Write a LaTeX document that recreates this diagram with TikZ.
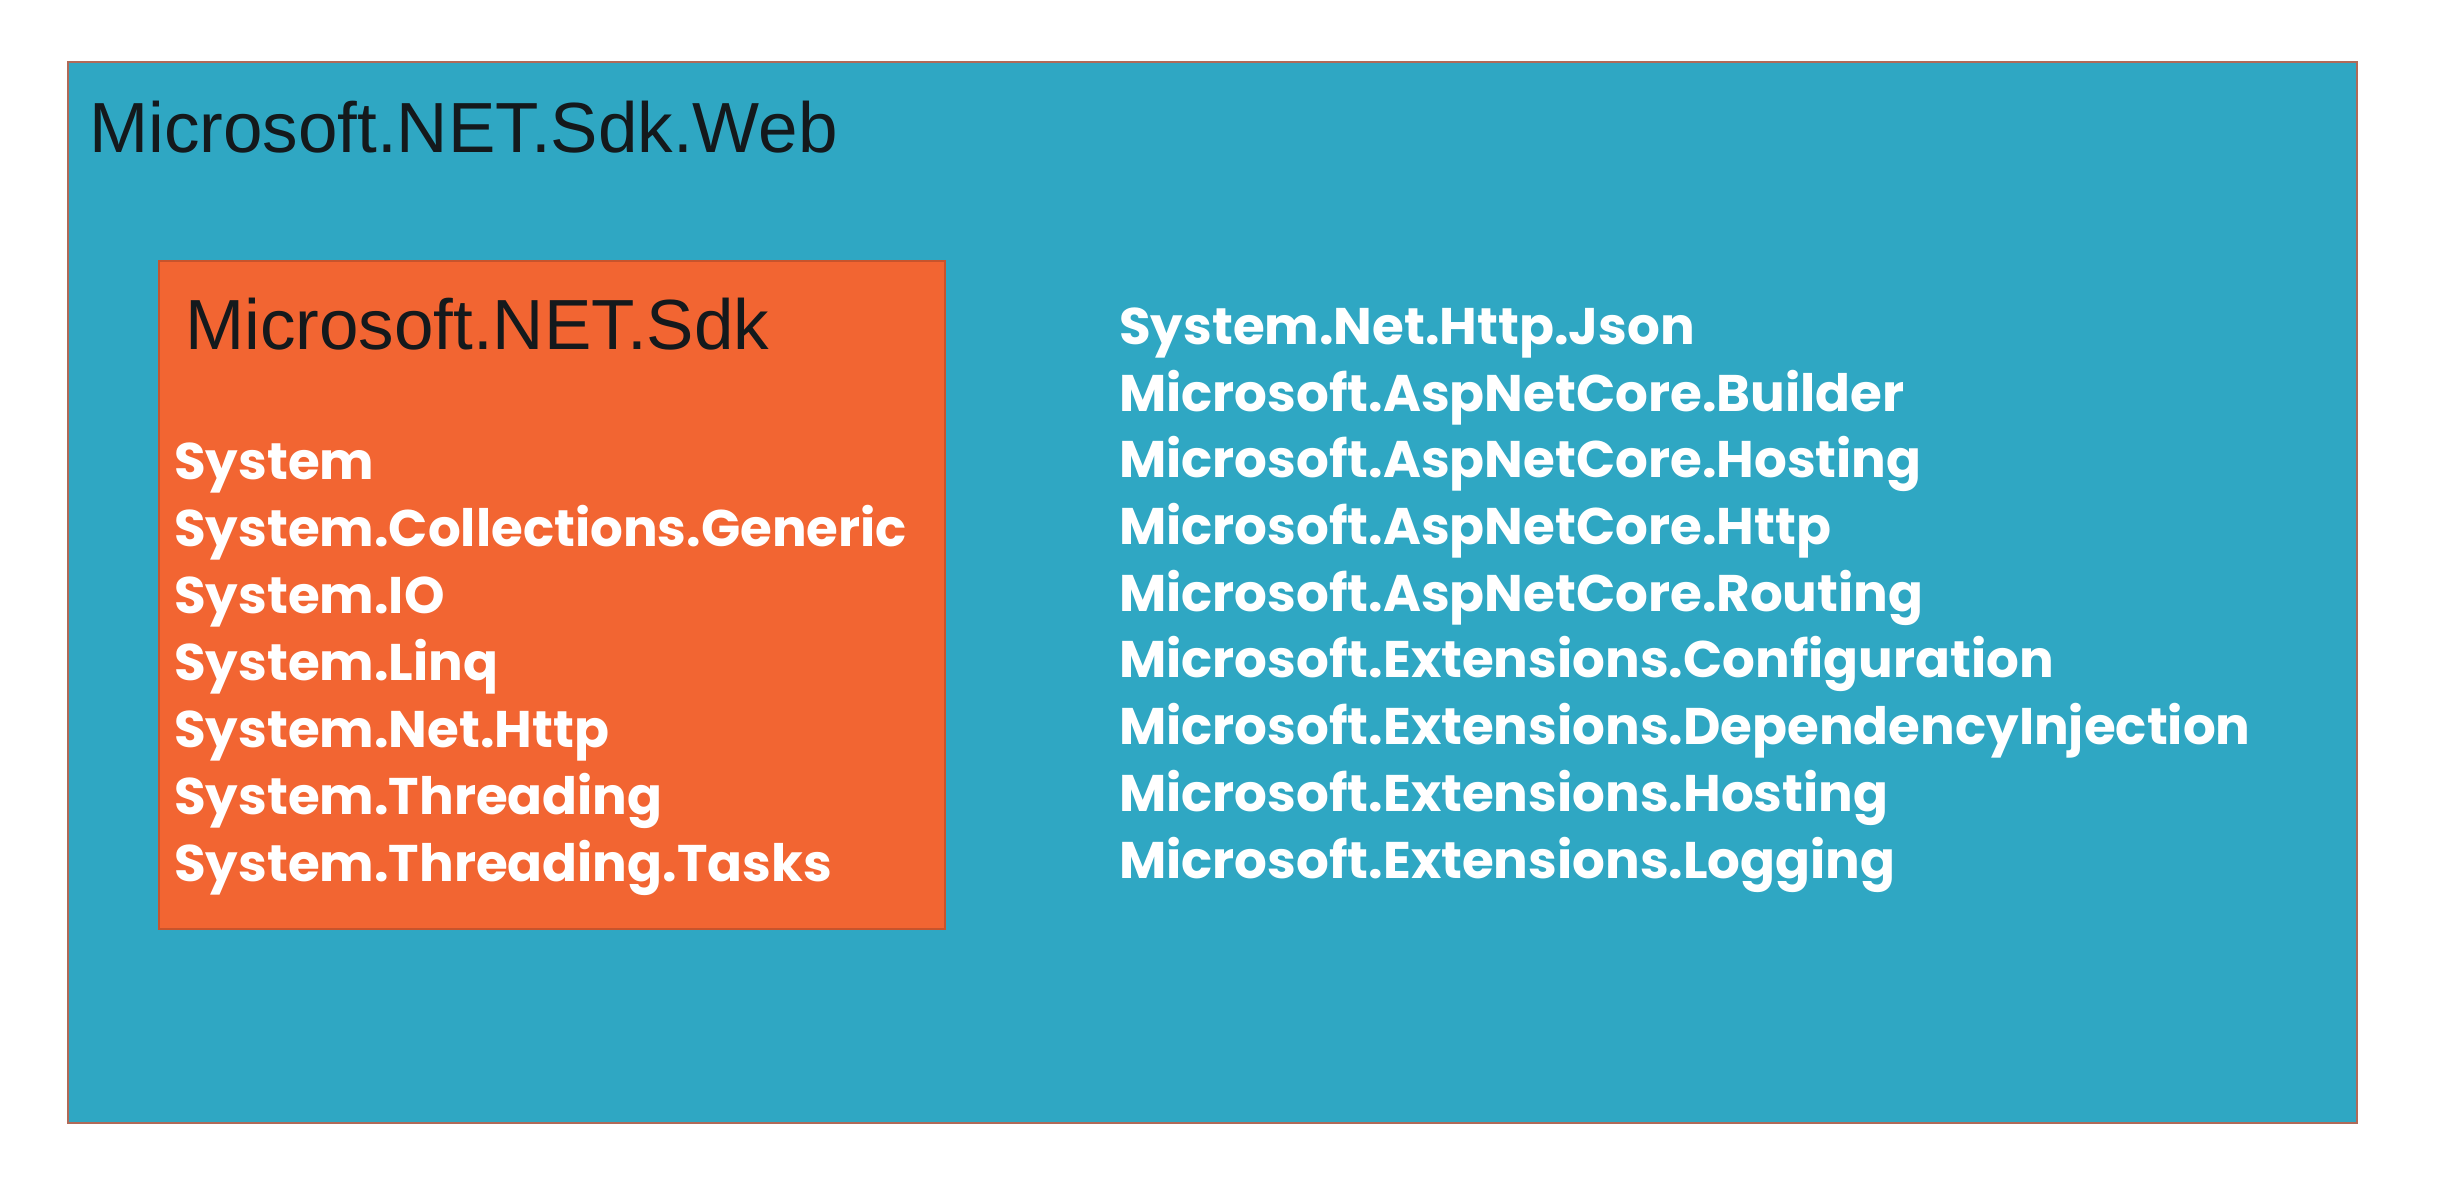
\documentclass[tikz,border=0pt]{standalone}
\usepackage{fontspec}
\setmainfont{Liberation Sans}
\newfontfamily\listfont{Poppins}
\definecolor{webblue}{HTML}{2FA7C3}
\definecolor{sdkorange}{HTML}{F26532}
\definecolor{webedge}{HTML}{B06A58}
\definecolor{sdkedge}{HTML}{C8542C}
\definecolor{titleink}{HTML}{14191C}
\tikzset{
  titletext/.style={anchor=base west, inner sep=0pt, text=titleink, font=\fontsize{71}{80}\selectfont},
  itemtext/.style={anchor=base west, inner sep=0pt, text=white, font=\listfont\bfseries\fontsize{51.5}{58}\selectfont},
}
\begin{document}
\begin{tikzpicture}[x=1pt,y=-1pt]
\useasboundingbox[fill=white] (0,0) rectangle (2440,1176);
\draw[webedge, line width=2pt, fill=webblue] (68,62) rectangle (2357,1123);
\node[titletext] (webtitle) at (89,152) {Microsoft.NET.Sdk.Web};
\draw[sdkedge, line width=1.5pt, fill=sdkorange] (159,261) rectangle (945,929);
\node[titletext] (sdktitle) at (185,349) {Microsoft.NET.Sdk};
\node[itemtext] (l1) at (174,479) {System};
\node[itemtext] (l2) at (174,546) {System.Collections.Generic};
\node[itemtext] (l3) at (174,613) {System.IO};
\node[itemtext] (l4) at (174,680) {System.Linq};
\node[itemtext] (l5) at (174,747) {System.Net.Http};
\node[itemtext] (l6) at (174,814) {System.Threading};
\node[itemtext] (l7) at (174,881) {System.Threading.Tasks};
\node[itemtext] (r1) at (1119,344) {System.Net.Http.Json};
\node[itemtext] (r2) at (1119,411) {Microsoft.AspNetCore.Builder};
\node[itemtext] (r3) at (1119,477) {Microsoft.AspNetCore.Hosting};
\node[itemtext] (r4) at (1119,544) {Microsoft.AspNetCore.Http};
\node[itemtext] (r5) at (1119,611) {Microsoft.AspNetCore.Routing};
\node[itemtext] (r6) at (1119,677) {Microsoft.Extensions.Configuration};
\node[itemtext] (r7) at (1119,744) {Microsoft.Extensions.DependencyInjection};
\node[itemtext] (r8) at (1119,811) {Microsoft.Extensions.Hosting};
\node[itemtext] (r9) at (1119,878) {Microsoft.Extensions.Logging};
\end{tikzpicture}
\end{document}
